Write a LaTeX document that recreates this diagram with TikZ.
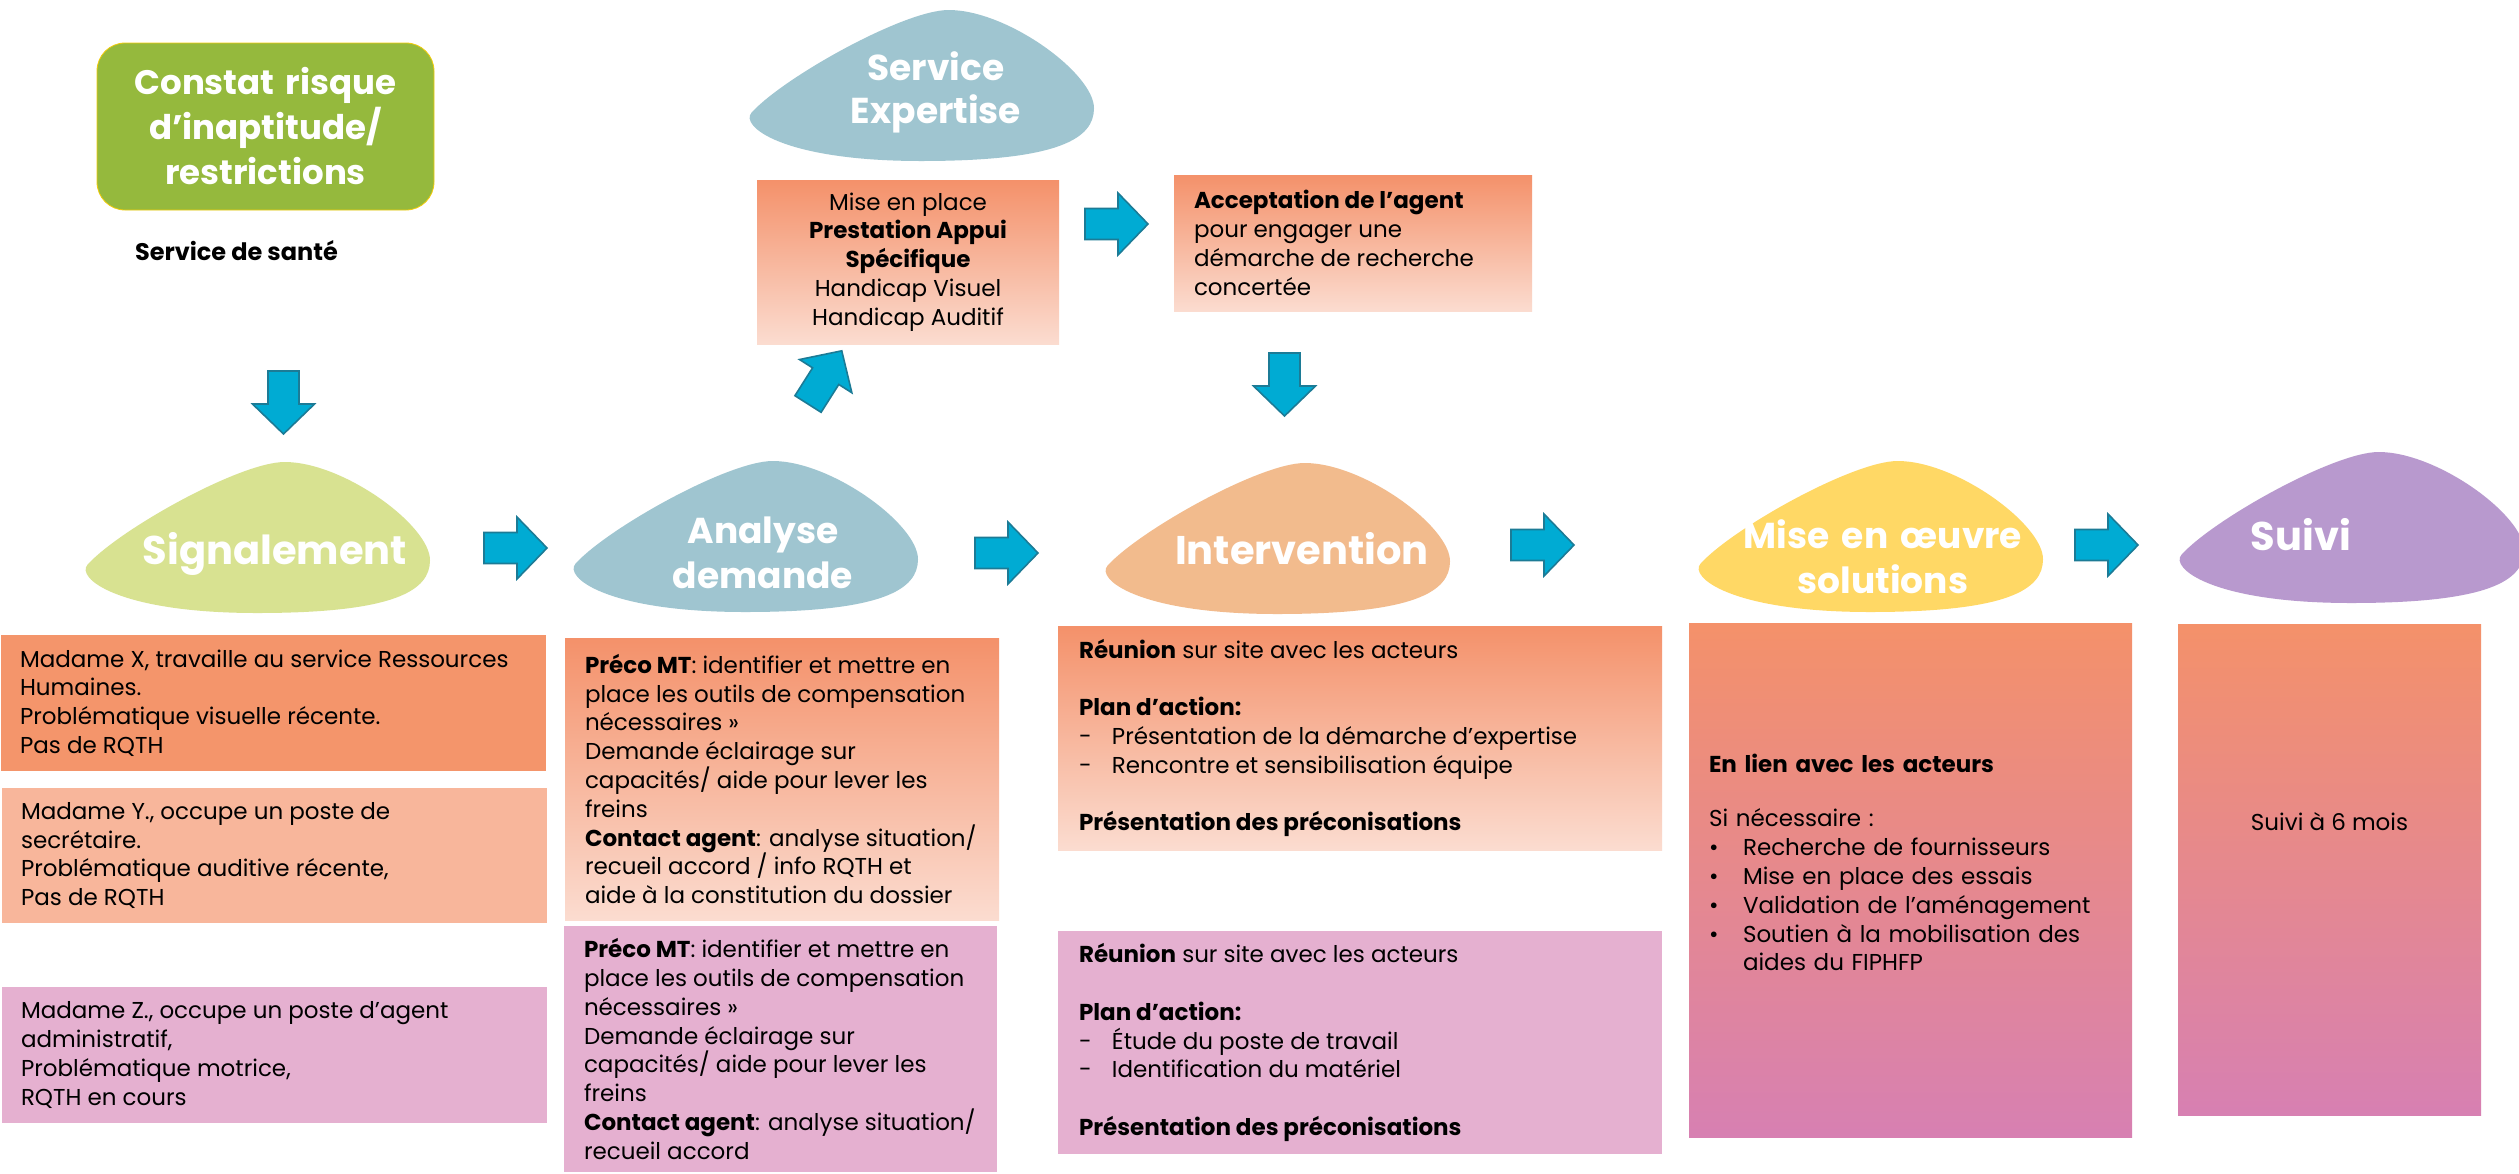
\documentclass[tikz,border=0pt]{standalone}
\usepackage{fontspec}
\setmainfont{Poppins}
\definecolor{arrowblue}{HTML}{00ABD3}
\definecolor{arrowedge}{HTML}{1C7B96}
\definecolor{constatgreen}{HTML}{95B93D}
\definecolor{constatedge}{HTML}{F2CC0C}
\definecolor{signalgreen}{HTML}{D8E291}
\definecolor{analyseblue}{HTML}{9FC5D0}
\definecolor{interorange}{HTML}{F2BB8D}
\definecolor{miseyellow}{HTML}{FFD865}
\definecolor{suivimauve}{HTML}{B899CE}
\definecolor{casorange}{HTML}{F4956B}
\definecolor{caspeach}{HTML}{F8B69B}
\definecolor{caspink}{HTML}{E5B0D0}
\definecolor{gradtop}{HTML}{F4916A}
\definecolor{gradbottom}{HTML}{FBDCD0}
\definecolor{gradmid}{HTML}{F6AF95}
\definecolor{gradend}{HTML}{D780B2}
\tikzset{
  pics/blkarrow/.style={code={
    \filldraw[fill=arrowblue, draw=arrowedge, line width=0.8pt]
      (0,-15.5) -- (33,-15.5) -- (33,-31) -- (63,0) -- (33,31) -- (33,15.5) -- (0,15.5) -- cycle;
  }},
  pics/blob/.style={code={
    \fill[#1] (200.7,0) .. controls (155.7,0) and (34.6,68) .. (3.5,102.7)
      .. controls (-8.5,116.1) and (34.6,151) .. (173,151)
      .. controls (311.4,151) and (346,128.4) .. (346,98.2)
      .. controls (346,63.4) and (259.5,0) .. (200.7,0) -- cycle;
  }}
}
\begin{document}
\begin{tikzpicture}[x=0.5pt, y=-0.5pt,
    every node/.style={inner sep=0pt, outer sep=0pt},
    body/.style={font=\fontsize{11.5}{14.4}\selectfont},
    panel/.style={anchor=north west},
    boxtext/.style={body, anchor=west, align=left},
    ptitle/.style={text=white, align=center, anchor=base, text width=190pt,
      font=\bfseries\fontsize{18}{22.5}\selectfont},
    bigtitle/.style={ptitle, font=\bfseries\fontsize{20}{24}\selectfont},
    fade/.style={top color=gradtop, bottom color=gradbottom},
    tofade/.style={top color=gradtop, middle color=gradmid, bottom color=gradend}]
    \fill[white] (0,0) rectangle (2519,1173);
    \useasboundingbox (0,0) rectangle (2519,1173);
    \pic at (748,10) {blob=analyseblue};
    \pic at (84,462) {blob=signalgreen};
    \pic at (572,461) {blob=analyseblue};
    \pic at (1104,463) {blob=interorange};
    \pic at (1697,461) {blob=miseyellow};
    \pic at (2178,452) {blob=suivimauve};
    \node[ptitle, font=\bfseries\fontsize{18}{21.5}\selectfont] (expert) at (936,80) {Service\\Expertise};
    \node[bigtitle] (signal) at (275,564) {Signalement};
    \node[ptitle] (analyse) at (763,543) {Analyse\\demande};
    \node[bigtitle] (interv) at (1302,564) {Intervention};
    \node[ptitle] (mise) at (1883,548) {Mise en œuvre\\solutions};
    \node[bigtitle] (suivi) at (2301,550) {Suivi};
    \node[draw=constatedge, fill=constatgreen, rounded corners=14pt, minimum width=168.5pt,
      minimum height=83.5pt, text width=150pt, align=center, text=white,
      font=\bfseries\fontsize{17}{22.5}\selectfont] (constat) at (265.5,126.5)
      {Constat risque\\d’inaptitude/\\restrictions};
    \node[anchor=base west, font=\bfseries\fontsize{12}{14.4}\selectfont] (sante) at (135,260) {Service de santé};
    \node[panel, fade, minimum width=151pt, minimum height=82pt] (appui) at (757,180) {};
    \node[body, align=center] (appuitxt) at (appui.center)
      {Mise en place\\\textbf{Prestation Appui}\\\textbf{Spécifique}\\Handicap Visuel\\Handicap Auditif};
    \node[panel, fade, minimum width=179pt, minimum height=68pt] (accept) at (1174,175) {};
    \node[boxtext] (accepttxt) at ([xshift=10pt]accept.west)
      {\textbf{Acceptation de l’agent}\\pour engager une\\démarche de recherche\\concertée};
    \node[panel, fill=casorange, minimum width=272.5pt, minimum height=68pt] (casx) at (1,635) {};
    \node[boxtext] (casxtxt) at ([xshift=9.5pt]casx.west)
      {Madame X, travaille au service Ressources\\Humaines.\\Problématique visuelle récente.\\Pas de RQTH};
    \node[panel, fill=caspeach, minimum width=272.5pt, minimum height=67.5pt] (casy) at (2,788) {};
    \node[boxtext] (casytxt) at ([xshift=9.5pt]casy.west)
      {Madame Y., occupe un poste de\\secrétaire.\\Problématique auditive récente,\\Pas de RQTH};
    \node[panel, fill=caspink, minimum width=272.5pt, minimum height=68pt] (casz) at (2,987) {};
    \node[boxtext] (casztxt) at ([xshift=9.5pt]casz.west)
      {Madame Z., occupe un poste d’agent\\administratif,\\Problématique motrice,\\RQTH en cours};
    \node[panel, fade, minimum width=217pt, minimum height=141pt] (precox) at (565,638) {};
    \node[boxtext] (precoxtxt) at ([xshift=10pt]precox.west)
      {\textbf{Préco MT}: identifier et mettre en\\place les outils de compensation\\nécessaires »\\Demande éclairage sur\\capacités/ aide pour lever les\\freins\\\textbf{Contact agent}: analyse situation/\\recueil accord / info RQTH et\\aide à la constitution du dossier};
    \node[panel, fill=caspink, minimum width=216.5pt, minimum height=123pt] (precoz) at (564,926) {};
    \node[boxtext] (precoztxt) at ([xshift=10pt]precoz.west)
      {\textbf{Préco MT}: identifier et mettre en\\place les outils de compensation\\nécessaires »\\Demande éclairage sur\\capacités/ aide pour lever les\\freins\\\textbf{Contact agent}: analyse situation/\\recueil accord};
    \node[panel, fade, minimum width=302pt, minimum height=112pt] (reunx) at (1058,626) {};
    \node[boxtext] (reunxtxt) at ([xshift=10.5pt]reunx.west)
      {\textbf{Réunion} sur site avec les acteurs\\[14.4pt]\textbf{Plan d’action:}\\
       \makebox[16.5pt][l]{-}Présentation de la démarche d’expertise\\
       \makebox[16.5pt][l]{-}Rencontre et sensibilisation équipe\\[14.4pt]
       \textbf{Présentation des préconisations}};
    \node[panel, fill=caspink, minimum width=302pt, minimum height=111.5pt] (reunz) at (1058,931) {};
    \node[boxtext] (reunztxt) at ([xshift=10.5pt]reunz.west)
      {\textbf{Réunion} sur site avec les acteurs\\[14.4pt]\textbf{Plan d’action:}\\
       \makebox[16.5pt][l]{-}Étude du poste de travail\\
       \makebox[16.5pt][l]{-}Identification du matériel\\[14.4pt]
       \textbf{Présentation des préconisations}};
    \node[panel, tofade, minimum width=221.5pt, minimum height=257pt] (solut) at (1689,623) {};
    \node[panel, tofade, minimum width=151.5pt, minimum height=245.5pt] (suivibox) at (2178,624) {};
    \node[body, anchor=base west, text width=200pt, align=left] (soluttxt) at (1709,772)
      {\textbf{En lien avec les acteurs}\\[13pt]Si nécessaire :\\
       \makebox[17pt][l]{\textbullet}Recherche de fournisseurs\\
       \makebox[17pt][l]{\textbullet}Mise en place des essais\\
       \makebox[17pt][l]{\textbullet}Validation de l’aménagement\\
       \makebox[17pt][l]{\textbullet}Soutien à la mobilisation des\\
       \hspace*{17pt}aides du FIPHFP};
    \node[body, anchor=base] (suivitxt) at (2329.5,830) {Suivi à 6 mois};
    \pic[rotate=-90] at (283.5,371) {blkarrow};
    \pic[rotate=-90] at (1284.5,353) {blkarrow};
    \pic[rotate=57.6] at (808,404) {blkarrow};
    \foreach \ax/\ay in {484/548, 975/553, 1511/545, 2075/545, 1085/224}
        \pic at (\ax,\ay) {blkarrow};
\end{tikzpicture}
\end{document}
